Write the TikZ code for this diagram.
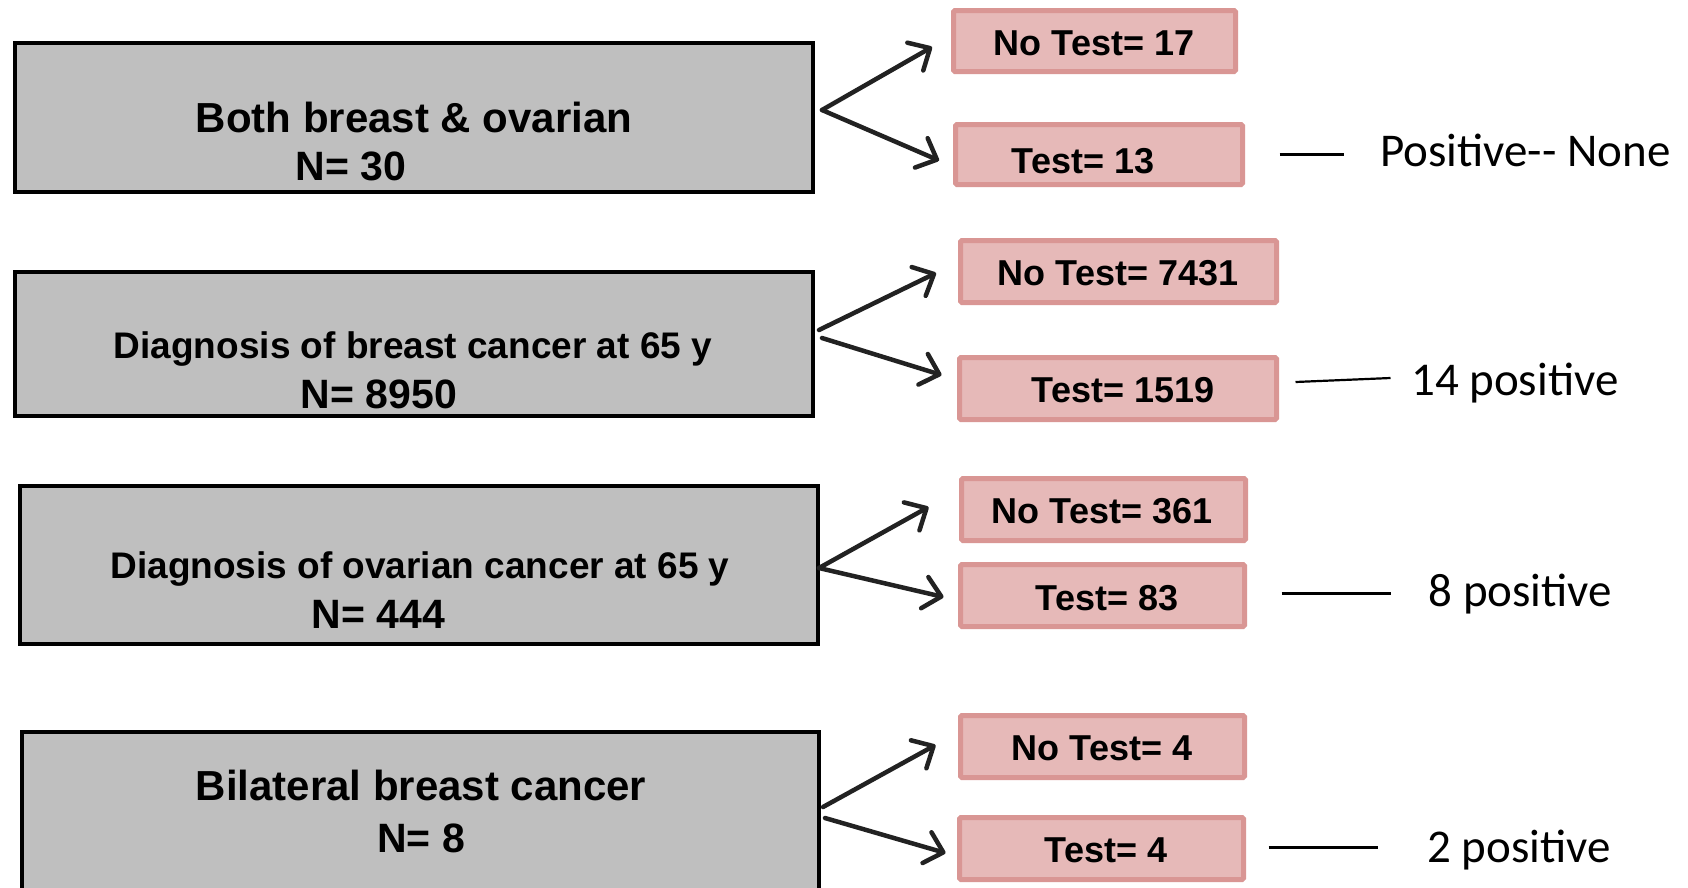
\documentclass[tikz,border=0pt]{standalone}
\usepackage{fontspec}
\setmainfont{Liberation Sans}
\newfontfamily\calibrifont{Carlito}
\usetikzlibrary{arrows.meta,calc}
\definecolor{boxgray}{HTML}{BFBFBF}
\definecolor{pinkfill}{HTML}{E6B9B8}
\definecolor{pinkline}{HTML}{D99694}
\definecolor{arrowcol}{HTML}{222222}
\begin{document}
\begin{tikzpicture}[x=1pt,y=-1pt,
  graybox/.style={draw=black, line width=4pt, fill=boxgray, inner sep=0pt, minimum width=798pt},
  pinkbox/.style={draw=pinkline, line width=5pt, fill=pinkfill, inner sep=0pt, rounded corners=1.5pt, minimum height=62pt},
  bigtext/.style={font=\bfseries\fontsize{42}{48}\selectfont, inner sep=0pt, anchor=base},
  midtext/.style={font=\bfseries\fontsize{37}{44}\selectfont, inner sep=0pt, anchor=base},
  ntext/.style={font=\bfseries\fontsize{41}{48}\selectfont, inner sep=0pt, anchor=base},
  ptext/.style={font=\bfseries\fontsize{36}{42}\selectfont, inner sep=0pt, anchor=base},
  rtext/.style={font=\calibrifont\fontsize{47}{56}\selectfont, inner sep=0pt, anchor=base west},
  forkarrow/.style={draw=arrowcol, line width=4.5pt, line cap=round, -{Straight Barb[length=17pt,width=32pt,line cap=round,line join=round]}},
  sideline/.style={draw=black, line width=3pt}]
\clip (0,0) rectangle (1688,887);
\fill[white] (0,0) rectangle (1688,887);
% gray boxes
\node[graybox, minimum height=149pt] (g1) at (414,117.5) {};
\node[graybox, minimum height=144pt] (g2) at (414,344) {};
\node[graybox, minimum height=158pt] (g3) at (419,565) {};
\node[graybox, minimum height=228pt, minimum width=797pt] (g4) at (420.5,846) {};
\node[bigtext] (g1a) at (414,132.7) {Both breast \& ovarian};
\node[ntext] (g1b) at (351,180) {N= 30};
\node[midtext] (g2a) at (413,358) {Diagnosis of breast cancer at 65 y};
\node[ntext] (g2b) at (379,408) {N= 8950};
\node[midtext] (g3a) at (420,578) {Diagnosis of ovarian cancer at 65 y};
\node[ntext] (g3b) at (378.6,628) {N= 444};
\node[bigtext] (g4a) at (421,800) {Bilateral breast cancer};
\node[ntext] (g4b) at (421,852) {N= 8};
% pink boxes
\node[pinkbox, minimum width=282pt, minimum height=61pt] (nt1) at (1094.5,41) {};
\node[pinkbox, minimum width=287pt, minimum height=60pt] (t1) at (1099,154.5) {};
\node[pinkbox, minimum width=316pt] (nt2) at (1118.5,271.5) {};
\node[pinkbox, minimum width=317pt] (t2) at (1118,388.5) {};
\node[pinkbox, minimum width=284pt] (nt3) at (1103.5,509.5) {};
\node[pinkbox, minimum width=284pt] (t3) at (1102.5,595.5) {};
\node[pinkbox, minimum width=284pt] (nt4) at (1102.5,746.5) {};
\node[pinkbox, minimum width=284pt] (t4) at (1101.5,848.5) {};
\node[ptext] (nt1t) at (1094,55) {No Test= 17};
\node[ptext] (t1t) at (1083,173) {Test= 13};
\node[ptext] (nt2t) at (1118,285) {No Test= 7431};
\node[ptext] (t2t) at (1123,402) {Test= 1519};
\node[ptext] (nt3t) at (1102,523) {No Test= 361};
\node[ptext] (t3t) at (1107,610) {Test= 83};
\node[ptext] (nt4t) at (1102,760) {No Test= 4};
\node[ptext] (t4t) at (1106,862) {Test= 4};
% arrows
\draw[forkarrow] ($(g1.east)+(7,-7.5)$) -- ($(nt1.west)+(-19,6)$);
\draw[forkarrow] ($(g1.east)+(7,-7.5)$) -- ($(t1.west)+(-14,6)$);
\draw[forkarrow] ($(g2.east)+(4,-14)$) -- ($(nt2.west)+(-22,1.5)$);
\draw[forkarrow] ($(g2.east)+(7,-6)$) -- ($(t2.west)+(-15.5,-13.5)$);
\draw[forkarrow] ($(g3.east)+(-1,3)$) -- ($(nt3.west)+(-30.5,-2.5)$);
\draw[forkarrow] ($(g3.east)+(-1,3)$) -- ($(t3.west)+(-14.5,1.5)$);
\draw[forkarrow] ($(g4.east)+(2,-39)$) -- ($(nt4.west)+(-22.5,-1.5)$);
\draw[forkarrow] ($(g4.east)+(4,-28)$) -- ($(t4.west)+(-11.5,4.5)$);
% side lines and labels
\draw[sideline] ($(t1.east)+(34.5,-0.5)$) -- ($(t1.east)+(98.5,-0.5)$);
\draw[sideline, line width=2.2pt] ($(t2.east)+(16.5,-6.5)$) -- ($(t2.east)+(111.5,-10.5)$);
\draw[sideline] ($(t3.east)+(34.5,-2.5)$) -- ($(t3.east)+(143.5,-2.5)$);
\draw[sideline] ($(t4.east)+(22.5,-1.5)$) -- ($(t4.east)+(131.5,-1.5)$);
\node[rtext] (r1) at (1380,166.7) {Positive-\kern0pt- None};
\node[rtext] (r2) at (1411,395) {14 positive};
\node[rtext] (r3) at (1428.5,606) {8 positive};
\node[rtext] (r4) at (1427,862) {2 positive};
\end{tikzpicture}
\end{document}
